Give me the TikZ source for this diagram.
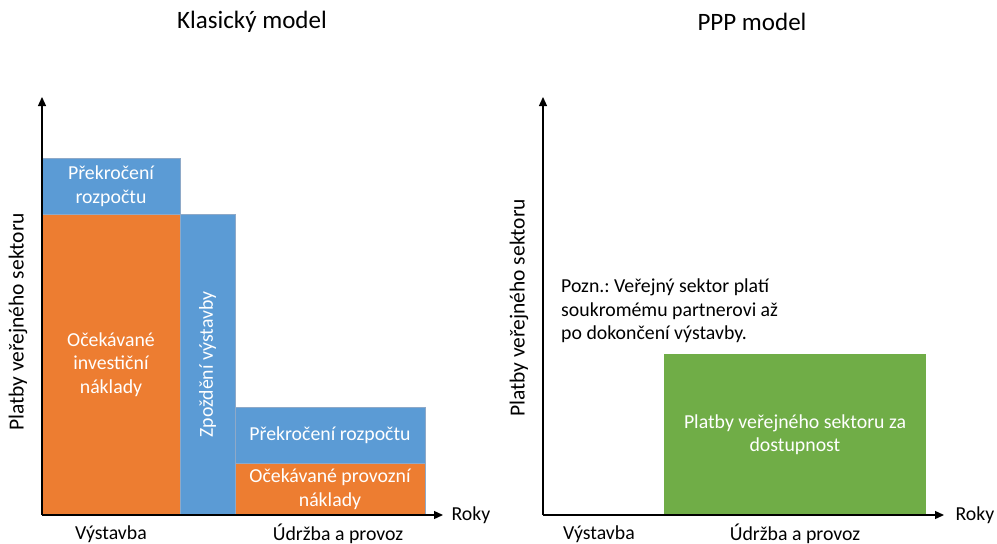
\documentclass[tikz,border=0pt]{standalone}
\usepackage{fontspec}
\setmainfont{Carlito}
\frenchspacing
\usetikzlibrary{arrows.meta}
\definecolor{blu}{HTML}{5B9BD5}
\definecolor{ora}{HTML}{ED7D31}
\definecolor{grn}{HTML}{70AD47}
\definecolor{edg}{HTML}{8EA9C8}
\tikzset{
  bar/.style={draw=edg, line width=0.6pt, text=white, align=center, inner sep=0pt},
  axis/.style={line width=1.3pt, -{Triangle[length=9pt,width=8pt]}},
  txt/.style={font=\fontsize{19.8}{23.5}\selectfont, inner sep=0pt},
  ttl/.style={font=\fontsize{25}{29}\selectfont, inner sep=0pt},
  ylab/.style={rotate=90, font=\fontsize{21.5}{25}\selectfont},
}
\begin{document}
\begin{tikzpicture}[x=1pt, y=-1pt, every node/.style={txt}]
\useasboundingbox (0,0) rectangle (997,544);
% Klasicky model
\node[ttl] (t1) at (252,22) {Klasický model};
\node[bar, fill=blu, minimum width=138pt, minimum height=56pt] (over1) at (111,186) {Překročení\\rozpočtu};
\node[bar, fill=ora, minimum width=138pt, minimum height=301pt] (inv) at (111,364.5) {Očekávané\\investiční\\náklady};
\node[bar, fill=blu, minimum width=55pt, minimum height=301pt] (delay) at (207.5,364.5) {};
\node[rotate=90, text=white] (delayt) at (delay) {Zpoždění výstavby};
\node[bar, fill=blu, minimum width=190pt, minimum height=56pt] (over2) at (330,435) {Překročení rozpočtu};
\node[bar, fill=ora, minimum width=190pt, minimum height=52pt] (ops) at (330,489) {Očekávané provozní\\náklady};
\coordinate (o1) at (42,515);
\coordinate (y1) at (42,97);
\coordinate (x1) at (443,515);
\draw[axis] (o1) -- (y1);
\draw[axis] (o1) -- (x1);
\node (r1) at (471,515) {Roky};
\node (p1) at (111,534) {Výstavba};
\node (u1) at (338,534) {Údržba a provoz};
\node[ylab] (v1) at (18,322) {Platby veřejného sektoru};
% PPP model
\node[ttl] (t2) at (752,22) {PPP model};
\node[bar, fill=grn, draw=none, minimum width=262pt, minimum height=161pt] (avail) at (795,434.5) {Platby veřejného sektoru za\\dostupnost};
\node[anchor=west, align=left] (note) at (561,311) {Pozn.: Veřejný sektor platí\\soukromému partnerovi až\\po dokončení výstavby.};
\coordinate (o2) at (543,515);
\coordinate (y2) at (543,97);
\coordinate (x2) at (944,515);
\draw[axis] (o2) -- (y2);
\draw[axis] (o2) -- (x2);
\node (r2) at (975,515) {Roky};
\node (p2) at (599,534) {Výstavba};
\node (u2) at (795,534) {Údržba a provoz};
\node[ylab] (v2) at (519,308) {Platby veřejného sektoru};
\end{tikzpicture}
\end{document}
